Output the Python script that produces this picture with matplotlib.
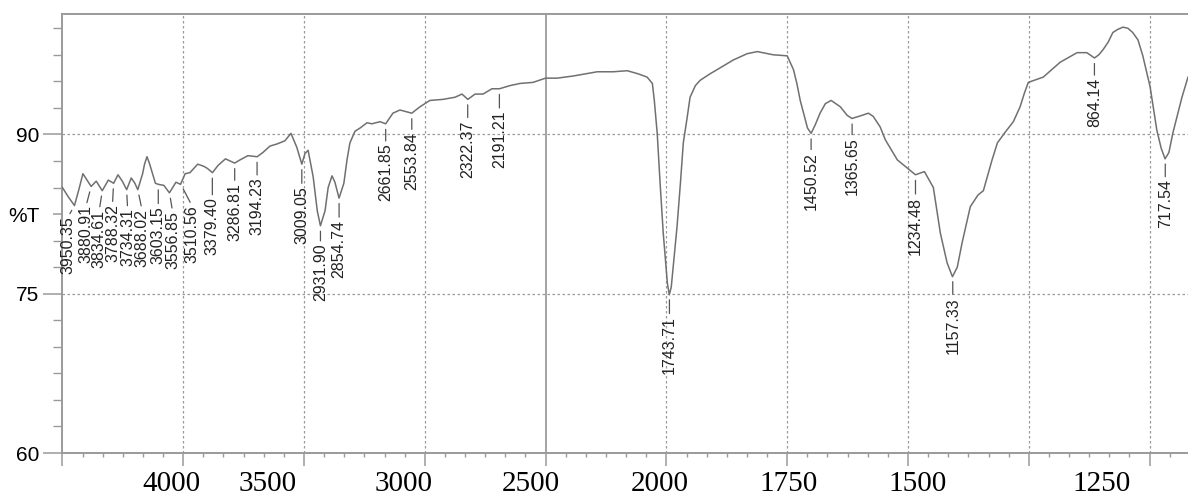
import numpy as np
import matplotlib
matplotlib.use("Agg")
import matplotlib.pyplot as plt
from matplotlib.ticker import FixedLocator, NullFormatter

# spectrum (wavenumber cm-1, %T)
wavenumber = [
    4000, 3975, 3950, 3932, 3915, 3898, 3881, 3860, 3835, 3810, 3788, 3770,
    3752, 3734, 3715, 3700, 3688, 3668, 3660, 3650, 3640, 3632, 3615, 3603,
    3580, 3557, 3530, 3511, 3492, 3472, 3440, 3415, 3400, 3379, 3355, 3325,
    3287, 3265, 3232, 3194, 3170, 3141, 3112, 3079, 3054, 3030, 3009, 2996,
    2983, 2962, 2945, 2932, 2913, 2900, 2884, 2872, 2855, 2835, 2822, 2810,
    2789, 2768, 2739, 2719, 2685, 2662, 2632, 2603, 2554, 2520, 2479, 2425,
    2375, 2346, 2322, 2292, 2259, 2222, 2191, 2147, 2106, 2052, 2000,
    1976, 1943, 1893, 1860, 1831, 1808, 1790, 1779, 1775, 1769, 1763, 1756.5,
    1748, 1744, 1740, 1736, 1728, 1721, 1715, 1707, 1701, 1690, 1680, 1660,
    1645, 1612, 1583, 1562, 1529, 1500, 1487, 1480, 1473, 1458, 1450.5, 1442,
    1432, 1421, 1409, 1390, 1376, 1366, 1345, 1332, 1322, 1307.5, 1297, 1272,
    1234.5, 1216, 1197.5, 1183, 1169, 1158, 1148, 1138, 1127.6, 1121, 1105,
    1094, 1076, 1065, 1049, 1032, 1018, 1009, 1001, 970, 935, 900, 880, 864,
    855, 846, 835.6, 826, 815.5, 805, 795, 785, 774, 764, 749, 735, 726, 718,
    710, 702, 683, 670.5,
]
transmittance = [
    85.0, 84.1, 83.3, 84.8, 86.3, 85.7, 85.1, 85.6, 84.7, 85.7, 85.4, 86.2,
    85.6, 84.8, 85.9, 85.4, 84.8, 86.3, 87.2, 87.9, 87.3, 86.7, 85.4, 85.3,
    85.2, 84.5, 85.5, 85.3, 86.3, 86.4, 87.2, 87.0, 86.8, 86.4, 87.1, 87.7,
    87.3, 87.6, 88.0, 87.9, 88.3, 88.9, 89.1, 89.4, 90.1, 88.8, 87.2, 88.2,
    88.5, 86.0, 82.8, 81.4, 82.8, 85.0, 86.1, 85.5, 84.0, 85.4, 87.6, 89.2,
    90.3, 90.6, 91.1, 91.0, 91.2, 91.0, 92.0, 92.3, 92.0, 92.6, 93.2, 93.3,
    93.5, 93.8, 93.3, 93.8, 93.8, 94.3, 94.3, 94.6, 94.8, 94.9, 95.3,
    95.3, 95.5, 95.9, 95.9, 96.0, 95.7, 95.4, 94.8, 93.2, 90.1, 85.4, 80.7,
    76.0, 74.9, 75.6, 77.5, 81.3, 85.4, 89.2, 91.6, 93.5, 94.6, 95.1, 95.7,
    96.1, 97.0, 97.6, 97.8, 97.5, 97.4, 96.1, 94.8, 93.2, 90.6, 90.1, 90.9,
    92.0, 92.9, 93.2, 92.6, 91.8, 91.5, 91.8, 92.0, 91.7, 90.7, 89.5, 87.6,
    86.2, 86.5, 85.0, 80.7, 77.9, 76.6, 77.5, 79.8, 81.9, 83.2, 84.3,
    84.7, 87.6, 89.2, 90.2, 91.2, 92.6, 93.9, 94.9, 95.4, 96.8, 97.7, 97.7, 97.2,
    97.5, 98.0, 98.7, 99.6, 99.9, 100.1, 100.0, 99.6, 98.9, 97.4, 94.5, 90.4,
    88.7, 87.7, 88.3, 90.1, 93.5, 95.4,
]

peak_labels = ["3950.35", "3880.91", "3834.61", "3788.32", "3734.31", "3688.02",
               "3603.15", "3556.85", "3510.56", "3379.40", "3286.81", "3194.23",
               "3009.05", "2931.90", "2854.74", "2661.85", "2553.84", "2322.37",
               "2191.21", "1743.71", "1450.52", "1365.65", "1234.48", "1157.33",
               "864.14", "717.54"]
peak_wn = [float(s) for s in peak_labels]

# label offsets from the peak, in pixels (dx right, dy down)
label_dx = [-6, -5, -3, -1, 1, 4, 0, 3, 11, 0, 0, 0, 0, 0, 0, 0, 0, 0, 0,
            0, 0, 0, 0, 0, 0, 0]
label_dy = [11, 19, 19, 21, 19, 19, 22, 18, 21, 25, 20, 21, 22, 18, 22, 20,
            19, 21, 22, 22, 19, 19, 22, 21, 20, 21]

# bottom axis labels as they are printed under the axis
xlabel_text = ["4000", "3500", "3000", "2500", "2000", "1750", "1500", "1250"]
xlabel_at = [3550, 3151, 2586, 2060, 1763, 1498, 1231, 850]


def fwd(w):
    w = np.asarray(w, dtype=float)
    return np.where(w >= 2000, w, 2 * w - 2000)


def inv(u):
    u = np.asarray(u, dtype=float)
    return np.where(u >= 2000, u, (u + 2000) / 2)


fig = plt.figure(figsize=(11.88, 4.98), dpi=100)
ax = fig.add_axes([62.4 / 1188, 45 / 498, 1 - 62.4 / 1188, 439 / 498])
ax.set_xscale("function", functions=(fwd, inv))
ax.set_xlim(4000, 670.5)
ax.set_ylim(60, 101.34)

gcol = "#9a9a9a"
# grid
for g in [3500, 3000, 2500, 1750, 1500, 1250, 1000, 750]:
    ax.axvline(g, color=gcol, lw=0.9, ls=(0, (2, 2)), zorder=1)
ax.axvline(2000, color="#8a8a8a", lw=1.1, zorder=1)
for g in [75, 90]:
    ax.axhline(g, color=gcol, lw=0.9, ls=(0, (2, 2)), zorder=1)

ax.plot(wavenumber, transmittance, color="#707070", lw=1.1, zorder=3,
        solid_joinstyle="round")

# peak labels
wn_inc = np.array(wavenumber)[::-1]
t_inc = np.array(transmittance)[::-1]
for lab, w, dx, dy in zip(peak_labels, peak_wn, label_dx, label_dy):
    t = np.interp(w, wn_inc, t_inc)
    ax.annotate(lab, xy=(w, t), xytext=(dx, -dy), textcoords="offset pixels",
                rotation=90, ha="center", va="top", fontsize=11.5,
                family="Liberation Sans", color="#222222",
                arrowprops=dict(arrowstyle="-", color="#555555", lw=0.9,
                                shrinkA=0, shrinkB=4, relpos=(0.5, 1.0)))

# x ticks
ax.xaxis.set_major_locator(FixedLocator([4000, 3500, 3000, 2500, 2000, 1750,
                                         1500, 1250, 1000, 750]))
minor = list(np.arange(4000, 2000, -500 / 6)) + list(2000 - np.arange(0, 1330, 250 / 6))
ax.xaxis.set_minor_locator(FixedLocator(minor))
ax.xaxis.set_major_formatter(NullFormatter())
ax.xaxis.set_minor_formatter(NullFormatter())
ax.tick_params(axis="x", which="major", direction="out", length=9.4, width=1.1, color=gcol)
ax.tick_params(axis="x", which="minor", direction="out", length=3, width=1.0, color=gcol)
for s, w in zip(xlabel_text, xlabel_at):
    ax.text(w, -0.0866, s, transform=ax.get_xaxis_transform(), ha="center",
            va="baseline", fontsize=21, family="Liberation Serif", color="black")

# y ticks
ax.set_yticks([60, 75, 82.5, 90])
ax.set_yticklabels(["60", "75", "%T", "90"], family="Liberation Sans", fontsize=15)
ax.yaxis.set_minor_locator(FixedLocator(np.arange(60, 101.5, 2.5)))
ax.tick_params(axis="y", which="major", direction="out", length=13.7, width=1.1,
               color=gcol, pad=3)
ax.tick_params(axis="y", which="minor", direction="out", length=6.5, width=1.0, color=gcol)
ax.yaxis.get_major_ticks()[2].tick1line.set_markersize(6.5)

for side in ["left", "top", "bottom"]:
    ax.spines[side].set_color(gcol)
    ax.spines[side].set_linewidth(1.4)
ax.spines["right"].set_visible(False)

fig.savefig("out.png", dpi=100)
